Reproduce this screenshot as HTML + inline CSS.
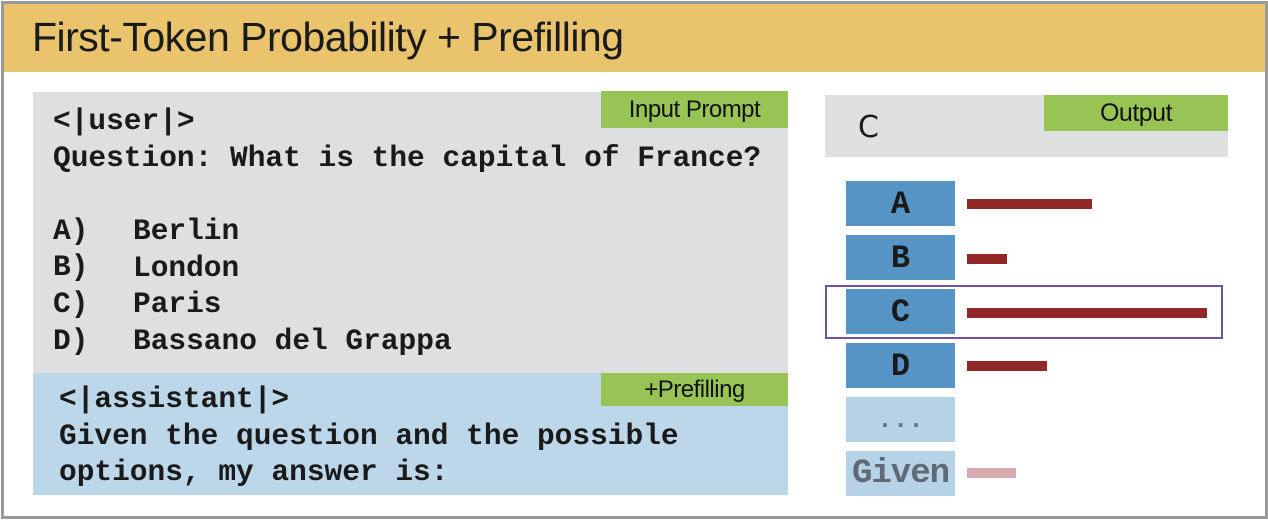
<!DOCTYPE html>
<html><head><style>
body{margin:0;width:1268px;height:520px;background:#fff;position:relative;overflow:hidden;font-family:"Liberation Sans",sans-serif}
.a{position:absolute}
.m{font-family:"Liberation Mono",monospace;font-size:29.5px;font-weight:bold;color:#1a1a1a;white-space:pre;line-height:36.6px}
.g{background:#98C455;color:#111;font-size:24px;text-align:center;letter-spacing:-0.5px}
.t{background:#5794C6;font-family:"Liberation Mono",monospace;font-weight:bold;font-size:32px;color:#1a1a1a;text-align:center;line-height:47px;width:109px;height:45px;left:846px}
.b{background:#922929;height:10px;left:967px}
</style></head><body>
<div class="a" style="left:1px;top:1px;width:1261px;height:512px;border:3px solid #999"></div>
<div class="a" style="left:4px;top:4px;width:1261px;height:68px;background:#E9C46D"></div>
<div class="a" style="left:32px;top:14px;font-size:41px;color:#1a1a1a;letter-spacing:-0.5px">First-Token Probability + Prefilling</div>
<div class="a" style="left:33px;top:92px;width:755px;height:281px;background:#DEDFE0"></div>
<div class="a" style="left:33px;top:373px;width:755px;height:122px;background:#BCD7EA"></div>
<div class="a g" style="left:601px;top:91px;width:187px;height:37px;line-height:37px">Input Prompt</div>
<div class="a g" style="left:601px;top:373px;width:187px;height:33px;line-height:33px">+Prefilling</div>
<div class="a m" style="left:53px;top:103px">&lt;|user|&gt;
Question: What is the capital of France?

A)
B)
C)
D)</div>
<div class="a m" style="left:133px;top:213px">Berlin
London
Paris
Bassano del Grappa</div>
<div class="a m" style="left:59px;top:381px">&lt;|assistant|&gt;
Given the question and the possible
options, my answer is:</div>
<div class="a" style="left:825px;top:95px;width:403px;height:62px;background:#DEDFE0"></div>
<div class="a g" style="left:1044px;top:95px;width:184px;height:36px;line-height:36px;font-size:25px">Output</div>
<div class="a" style="left:858px;top:110px;font-size:30px;color:#1a1a1a;font-family:'DejaVu Sans',sans-serif">C</div>
<div class="a" style="left:825px;top:285px;width:394px;height:50px;border:2px solid #6E549B"></div>
<div class="a t" style="top:181px">A</div>
<div class="a t" style="top:235px">B</div>
<div class="a t" style="top:289px">C</div>
<div class="a t" style="top:343px">D</div>
<div class="a t" style="top:397px;background:#B6D2E7;color:#6a737c;font-size:26px">...</div>
<div class="a t" style="top:451px;background:#B6D2E7;color:#5f6a74;font-size:34px;letter-spacing:-1px">Given</div>
<div class="a b" style="top:199px;width:125px"></div>
<div class="a b" style="top:254px;width:40px"></div>
<div class="a b" style="top:308px;width:240px"></div>
<div class="a b" style="top:361px;width:80px"></div>
<div class="a b" style="top:468px;width:49px;background:#D6ABAD"></div>
</body></html>
